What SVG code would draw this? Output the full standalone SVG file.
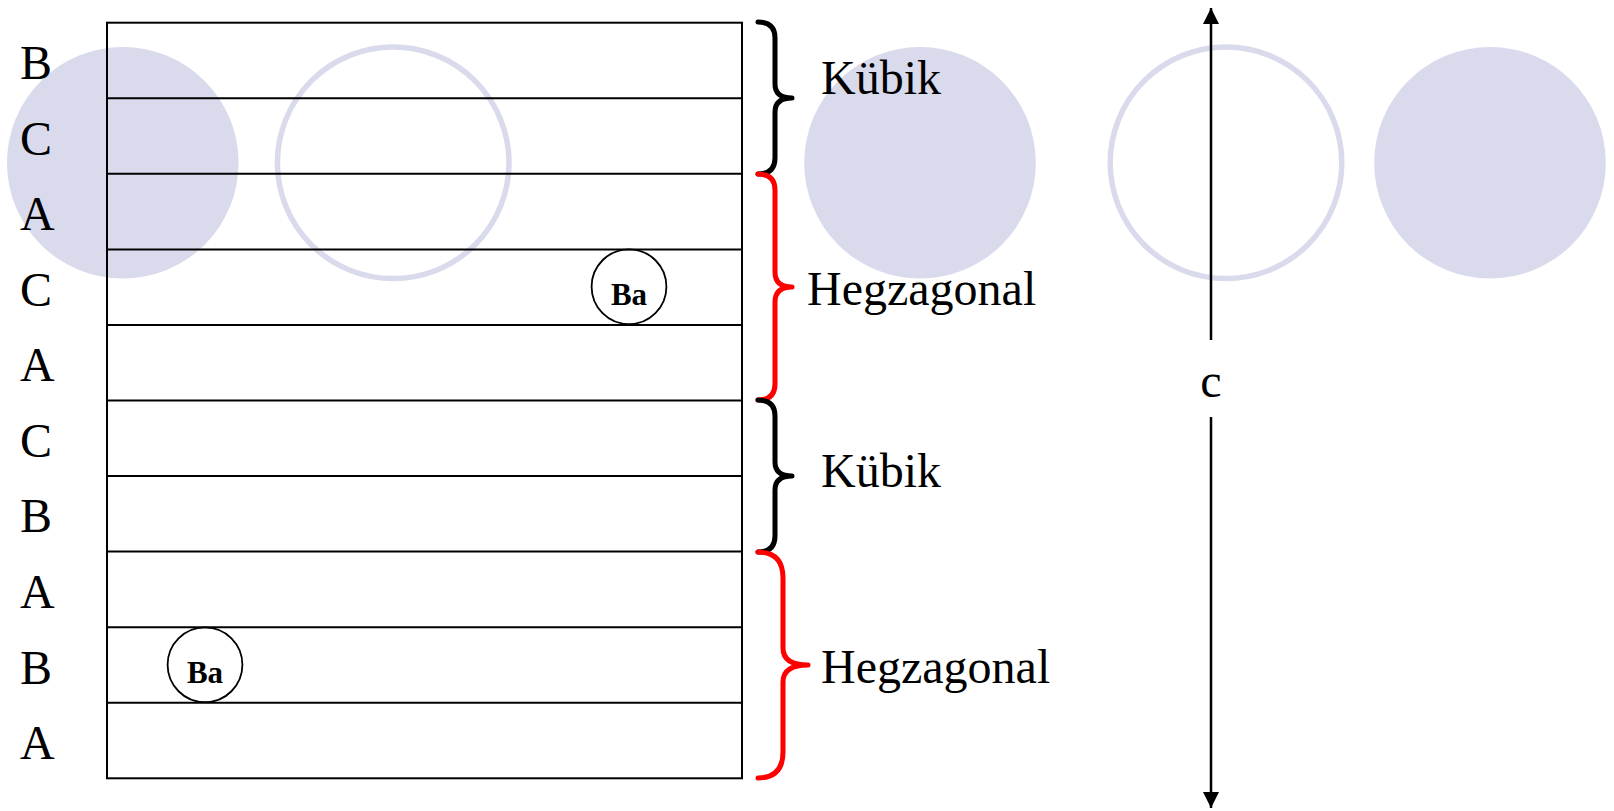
<svg xmlns="http://www.w3.org/2000/svg" width="1614" height="811" viewBox="0 0 1614 811">
  <style>
    .disc { fill: #DADAED; stroke: none; }
    .ring { fill: none; stroke: #DADAED; stroke-width: 5.5; }
    .layer { stroke: #000; stroke-width: 2; fill: none; }
    .lbl { font-family: "Liberation Serif", "Times New Roman", serif; font-size: 48px; fill: #000; }
    .ba { font-family: "Liberation Serif", "Times New Roman", serif; font-size: 31px; font-weight: bold; fill: #000; text-anchor: middle; }
    .atom { fill: none; stroke: #000; stroke-width: 1.8; }
    .brace { fill: none; stroke-width: 5; stroke-linecap: round; stroke-linejoin: round; }
    .axis { stroke: #000; stroke-width: 2.5; fill: none; }
  </style>
  <defs>
    <marker id="tip" viewBox="0 0 10 10" refX="10" refY="5" markerWidth="17" markerHeight="16" markerUnits="userSpaceOnUse" orient="auto">
      <path d="M0 0 L10 5 L0 10 Z" fill="#000"/>
    </marker>
  </defs>

  <rect x="0" y="0" width="1614" height="811" fill="#fff"/>

  <!-- stacking box background -->
  <rect x="107" y="22.7" width="635" height="755.6" fill="#fff"/>

  <!-- atom layer discs and rings -->
  <g id="spheres">
    <circle class="disc" cx="122.8" cy="162.8" r="115.8"/>
    <circle class="ring" cx="393.2" cy="162.8" r="115.8"/>
    <circle class="disc" cx="920" cy="162.8" r="115.8"/>
    <circle class="ring" cx="1226" cy="162.8" r="115.8"/>
    <circle class="disc" cx="1490" cy="162.8" r="115.8"/>
  </g>

  <!-- layer stack -->
  <g id="stack">
    <rect class="layer" x="107" y="22.7" width="635" height="755.6"/>
    <line class="layer" x1="107" y1="98.3" x2="742" y2="98.3"/>
    <line class="layer" x1="107" y1="173.8" x2="742" y2="173.8"/>
    <line class="layer" x1="107" y1="249.4" x2="742" y2="249.4"/>
    <line class="layer" x1="107" y1="325" x2="742" y2="325"/>
    <line class="layer" x1="107" y1="400.5" x2="742" y2="400.5"/>
    <line class="layer" x1="107" y1="476" x2="742" y2="476"/>
    <line class="layer" x1="107" y1="551.6" x2="742" y2="551.6"/>
    <line class="layer" x1="107" y1="627.2" x2="742" y2="627.2"/>
    <line class="layer" x1="107" y1="702.7" x2="742" y2="702.7"/>
  </g>

  <!-- layer letters -->
  <g id="letters">
    <text class="lbl" x="20" y="79">B</text>
    <text class="lbl" x="20" y="154.6">C</text>
    <text class="lbl" x="20" y="230.1">A</text>
    <text class="lbl" x="20" y="305.7">C</text>
    <text class="lbl" x="20" y="381.2">A</text>
    <text class="lbl" x="20" y="456.8">C</text>
    <text class="lbl" x="20" y="532.4">B</text>
    <text class="lbl" x="20" y="607.9">A</text>
    <text class="lbl" x="20" y="683.5">B</text>
    <text class="lbl" x="20" y="759">A</text>
  </g>

  <!-- barium atoms -->
  <g id="ba-upper">
    <circle class="atom" cx="629" cy="286.7" r="37.4"/>
    <text class="ba" x="629" y="304.5">Ba</text>
  </g>
  <g id="ba-lower">
    <circle class="atom" cx="205" cy="664.8" r="37.4"/>
    <text class="ba" x="205" y="683">Ba</text>
  </g>

  <!-- braces -->
  <g id="braces">
    <path class="brace" stroke="#000" d="M758 22 Q775 22 775 38 L775 84 Q775 98 792 98 Q775 98 775 112 L775 158 Q775 174 758 174"/>
    <path class="brace" stroke="#FF0000" d="M758 174 Q775 174 775 190 L775 272 Q775 287 792 287 Q775 287 775 302 L775 384 Q775 400 758 400"/>
    <path class="brace" stroke="#000" d="M758 400 Q775 400 775 416 L775 462 Q775 476 792 476 Q775 476 775 490 L775 536 Q775 552 758 552"/>
    <path class="brace" stroke="#FF0000" d="M758 552 Q783 552 783 578 L783 648 Q783 665 808 665 Q783 665 783 682 L783 752 Q783 778 758 778"/>
  </g>

  <!-- stacking type labels -->
  <g id="labels">
    <text class="lbl" x="821" y="94.3">Kübik</text>
    <text class="lbl" x="807" y="304.5">Hegzagonal</text>
    <text class="lbl" x="821" y="486.5">Kübik</text>
    <text class="lbl" x="821" y="682.7">Hegzagonal</text>
  </g>

  <!-- c axis -->
  <g id="c-axis">
    <line class="axis" x1="1211" y1="340" x2="1211" y2="8" marker-end="url(#tip)"/>
    <line class="axis" x1="1211" y1="417" x2="1211" y2="808" marker-end="url(#tip)"/>
    <text class="lbl" x="1211" y="396.5" text-anchor="middle">c</text>
  </g>
</svg>
